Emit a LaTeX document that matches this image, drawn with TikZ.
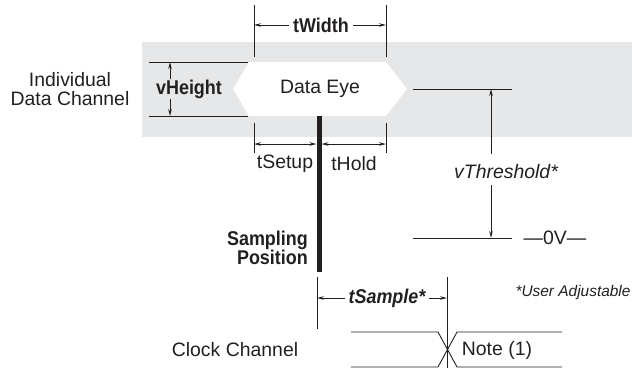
\documentclass[tikz,border=0pt]{standalone}
\usepackage{fontspec}
\setmainfont{Liberation Sans}[BoldFeatures={FakeStretch=0.9},BoldItalicFeatures={FakeStretch=0.9}]
\usetikzlibrary{arrows.meta}
\definecolor{band}{HTML}{E6E7E8}
\definecolor{ink}{HTML}{231F20}
\tikzset{
  lbl/.style={inner sep=0pt, text=ink, font=\fontsize{19.5}{21}\selectfont},
  blbl/.style={lbl, font=\fontsize{20}{21}\selectfont\bfseries},
  ilbl/.style={lbl, font=\fontsize{19.5}{21}\selectfont\itshape},
  ln/.style={draw=ink, line width=0.9bp},
  dim/.style={ln, -{Stealth[length=7bp,width=3.5bp]}},
  ddim/.style={ln, {Stealth[length=7bp,width=3.5bp]}-{Stealth[length=7bp,width=3.5bp]}},
}
\begin{document}
\begin{tikzpicture}[x=1bp,y=-1bp]
\useasboundingbox (0,0) rectangle (632,368);
% band and eye
\fill[band] (142,42) rectangle (632,137);
\fill[white] (233,89) -- (249,62) -- (386,62) -- (407,89) -- (386,116) -- (249,116) -- cycle;
\node[lbl] (eye) at (320,89) {Data Eye};
\node[lbl, align=center] (idc) at (70,89) {Individual\\[-2.5bp]Data Channel};

% vHeight
\coordinate (vh1a) at (149,62); \coordinate (vh1b) at (248,62);
\coordinate (vh2a) at (149,116); \coordinate (vh2b) at (248,116);
\draw[ln] (vh1a) -- (vh1b);
\draw[ln] (vh2a) -- (vh2b);
\node[blbl] (vh) at (189,89) {vHeight};
\coordinate (vhu) at (170,62); \coordinate (vhd) at (170,116);
\coordinate (vhus) at (170,79); \coordinate (vhds) at (170,99);
\draw[dim] (vhus) -- (vhu);
\draw[dim] (vhds) -- (vhd);

% tWidth
\coordinate (tw1t) at (254,5); \coordinate (tw1b) at (254,57);
\coordinate (tw2t) at (386,5); \coordinate (tw2b) at (386,57);
\draw[ln] (tw1t) -- (tw1b);
\draw[ln] (tw2t) -- (tw2b);
\node[blbl] (tw) at (321,25) {tWidth};
\coordinate (twl) at (254,25); \coordinate (twr) at (386,25);
\draw[dim] (tw.west) ++(-4,0) -- (twl);
\draw[dim] (tw.east) ++(4,0) -- (twr);

% threshold
\coordinate (th1a) at (413,89); \coordinate (th1b) at (512,89);
\coordinate (th0a) at (413,238); \coordinate (th0b) at (512,238);
\draw[ln] (th1a) -- (th1b);
\draw[ln] (th0a) -- (th0b);
\node[ilbl] (vth) at (506,172) {vThreshold*};
\coordinate (thu) at (491,89); \coordinate (thd) at (491,238);
\coordinate (thus) at (491,154); \coordinate (thds) at (491,185);
\draw[dim] (thus) -- (thu);
\draw[dim] (thds) -- (thd);
\node[lbl] (zv) at (555,238) {—0V—};

% sampling bar
\coordinate (bt) at (319,116); \coordinate (bb) at (319,272);
\draw[draw=ink, line width=5bp] (bt) -- (bb);
\node[blbl, align=right, anchor=east] (sp) at (308,248) {Sampling\\[-2.5bp]Position};

% tSetup / tHold
\coordinate (su1) at (254,123); \coordinate (su2) at (254,153);
\coordinate (ho1) at (386,123); \coordinate (ho2) at (386,153);
\draw[ln] (su1) -- (su2);
\draw[ln] (ho1) -- (ho2);
\coordinate (sua) at (254,144); \coordinate (sub) at (316.5,144);
\coordinate (hoa) at (321.5,144); \coordinate (hob) at (386,144);
\draw[ddim] (sua) -- (sub);
\draw[ddim] (hoa) -- (hob);
\node[lbl] (tsu) at (285,164) {tSetup};
\node[lbl] (tho) at (354,164) {tHold};

% tSample
\coordinate (ts1t) at (317,277); \coordinate (ts1b) at (317,329);
\coordinate (ts2t) at (447,277); \coordinate (ts2b) at (447,368);
\draw[ln] (ts1t) -- (ts1b);
\draw[ln] (ts2t) -- (ts2b);
\node[lbl, font=\fontsize{20}{21}\selectfont\bfseries\itshape] (tsa) at (387,298) {tSample*};
\coordinate (tsl) at (317,298); \coordinate (tsr) at (447,298);
\draw[dim] (tsa.west) ++(-3,0) -- (tsl);
\draw[dim] (tsa.east) ++(3,0) -- (tsr);
\node[lbl, font=\fontsize{15.5}{17}\selectfont\itshape] (ua) at (573,292) {*User Adjustable};

% clock
\coordinate (c1) at (351,332); \coordinate (c2) at (438,332);
\coordinate (c3) at (457,367); \coordinate (c4) at (562,367);
\coordinate (d1) at (351,367); \coordinate (d2) at (438,367);
\coordinate (d3) at (457,332); \coordinate (d4) at (562,332);
\draw[ln] (c1) -- (c2) -- (c3) -- (c4);
\draw[ln] (d1) -- (d2) -- (d3) -- (d4);
\node[lbl] (cc) at (235,350) {Clock Channel};
\node[lbl] (note) at (497,350) {Note (1)};
\end{tikzpicture}
\end{document}
